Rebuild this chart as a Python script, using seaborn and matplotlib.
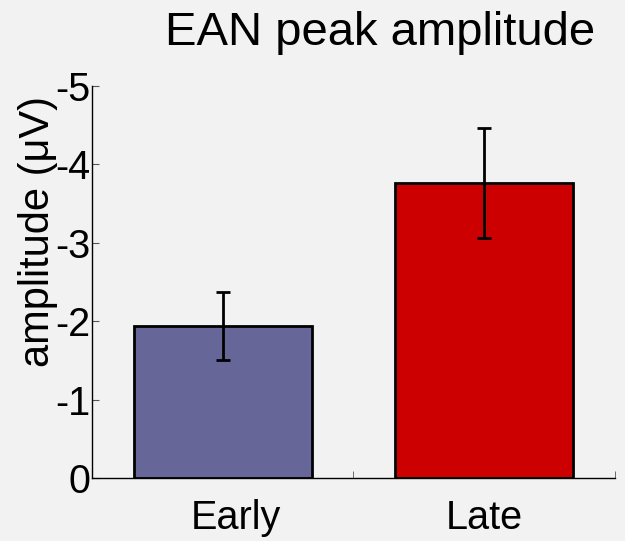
import matplotlib
matplotlib.use("Agg")
import matplotlib.pyplot as plt
import matplotlib.transforms as mtransforms
import seaborn as sns
import pandas as pd

conditions = ["Early", "Late"]
amplitudes = [-1.94, -3.76]
errors = [0.43, 0.70]
bar_colors = ["#666699", "#cc0000"]
ytick_values = [0, -1, -2, -3, -4, -5]
ytick_labels = ["0", "-1", "-2", "-3", "-4", "-5"]

sns.set_style("white")
plt.rcParams["font.family"] = ["Liberation Sans", "DejaVu Sans"]
plt.rcParams["axes.unicode_minus"] = False
plt.rcParams["text.color"] = "black"
plt.rcParams["axes.labelcolor"] = "black"
plt.rcParams["xtick.labelcolor"] = "black"
plt.rcParams["ytick.labelcolor"] = "black"

bg = "#f2f2f2"
fig = plt.figure(figsize=(6.25, 5.41), dpi=100, facecolor=bg)
ax = fig.add_axes([0.147, 0.1165, 0.837, 0.7245])
ax.set_facecolor(bg)

df = pd.DataFrame({"condition": conditions, "amplitude": amplitudes})
sns.barplot(data=df, x="condition", y="amplitude", hue="condition",
            palette=bar_colors, saturation=1, errorbar=None, width=0.68,
            edgecolor="black", linewidth=2, legend=False, ax=ax)
ax.errorbar(range(len(conditions)), amplitudes, yerr=errors, fmt="none",
            ecolor="black", elinewidth=2, capsize=5, capthick=2, zorder=5)

ax.set_xlim(-0.5, 1.5)
ax.set_ylim(0, -5)
ax.set_yticks(ytick_values)
ax.set_yticklabels(ytick_labels)
ax.set_xticks(range(len(conditions)))
ax.set_xticklabels(conditions)
ax.set_xticks([0.5, 1.5], minor=True)

for s in ["top", "right"]:
    ax.spines[s].set_visible(False)
for s in ["left", "bottom"]:
    ax.spines[s].set_color("black")
    ax.spines[s].set_linewidth(1)

ax.tick_params(axis="y", direction="in", length=5, color="#555555",
               labelsize=28.5, pad=1, left=True)
ax.tick_params(axis="x", which="major", length=0, labelsize=28.5, pad=15)
ax.tick_params(axis="x", which="minor", direction="in", length=5,
               color="#555555", bottom=True)

# the reference places the first category label slightly right of its bar centre
first_label = ax.get_xticklabels()[0]
first_label.set_transform(first_label.get_transform() +
                          mtransforms.ScaledTranslation(9.5 / 72, 0, fig.dpi_scale_trans))

ax.set_xlabel("")
ax.set_ylabel("amplitude (\u03bcV)", fontsize=30)
ax.yaxis.set_label_coords(-0.064, 0.628)

fig.text(0.608, 1 - 45 / 541, "EAN peak amplitude", fontsize=34,
         ha="center", va="baseline")

fig.savefig("out.png", dpi=100, facecolor=bg)
